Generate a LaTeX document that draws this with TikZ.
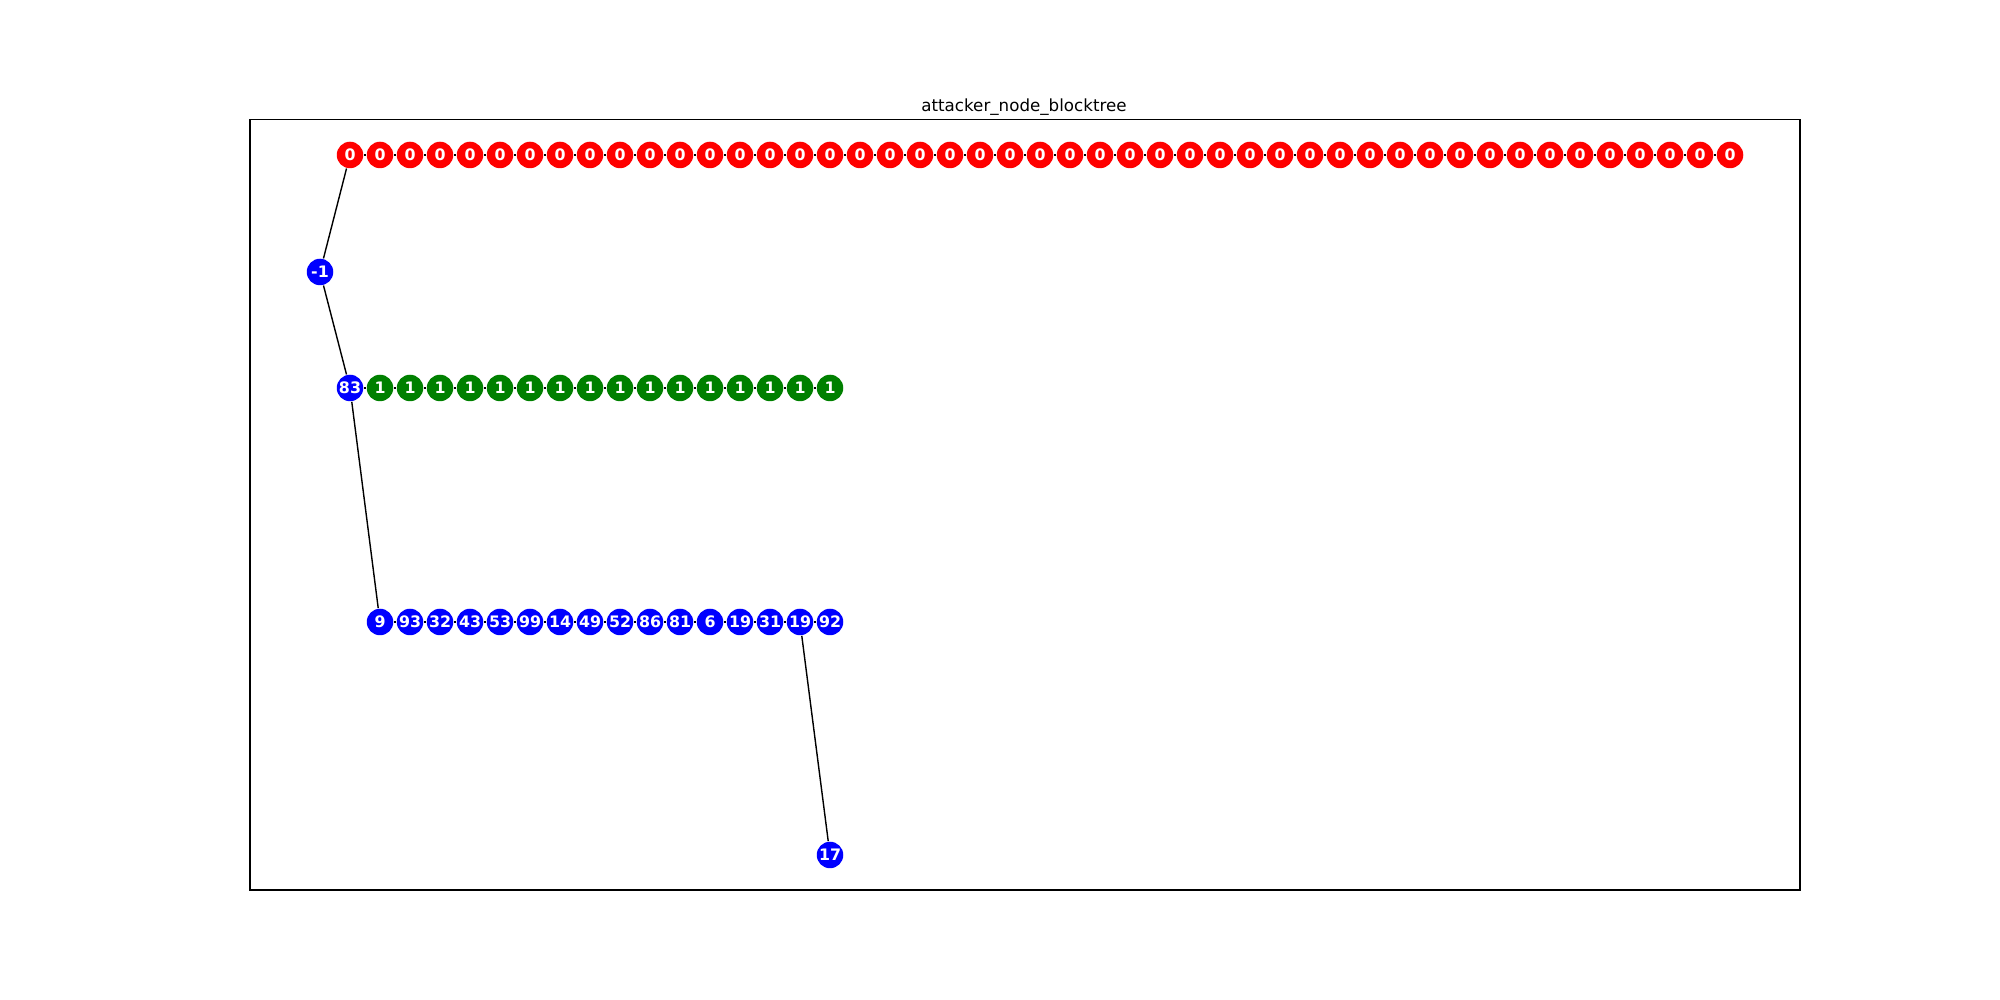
\documentclass[tikz,border=0pt]{standalone}
\usepackage{fontspec}
\setmainfont{DejaVu Sans}
\definecolor{mred}{RGB}{255,0,0}
\definecolor{mgreen}{RGB}{0,128,0}
\definecolor{mblue}{RGB}{0,0,255}
\tikzset{
  blk/.style={circle,inner sep=0pt,minimum size=0.265cm,text=white,
    font=\fontsize{4.5}{5}\selectfont\bfseries},
  rednode/.style={blk,fill=mred},
  greennode/.style={blk,fill=mgreen},
  bluenode/.style={blk,fill=mblue},
  edge/.style={draw=black,line width=0.4pt}
}
\begin{document}
\begin{tikzpicture}
\useasboundingbox (0,0) rectangle (20,10);
\draw[line width=0.3pt] (2.5,1.1) rectangle (18,8.8);
\node[font=\fontsize{4.75}{5.5}\selectfont] (title) at (10.24,8.93) {attacker\_node\_blocktree};
% root and fork node
\node[bluenode] (root) at (3.2,7.28) {-1};
\node[bluenode] (b83) at (3.5,6.12) {83};
% red chain
\foreach \i in {1,...,47} {
  \pgfmathsetmacro{\xx}{3.5+0.3*(\i-1)}
  \node[rednode] (r\i) at (\xx,8.45) {0};
}
% green chain
\foreach \i in {1,...,16} {
  \pgfmathsetmacro{\xx}{3.8+0.3*(\i-1)}
  \node[greennode] (g\i) at (\xx,6.12) {1};
}
% blue chain
\foreach \lab [count=\i] in {9,93,32,43,53,99,14,49,52,86,81,6,19,31,19,92} {
  \pgfmathsetmacro{\xx}{3.8+0.3*(\i-1)}
  \node[bluenode] (b\i) at (\xx,3.78) {\lab};
}
\node[bluenode] (b17) at (8.3,1.45) {17};
% edges
\draw[edge] (root) -- (r1);
\draw[edge] (root) -- (b83);
\draw[edge] (b83) -- (g1);
\draw[edge] (b83) -- (b1);
\foreach \i [evaluate=\i as \j using int(\i+1)] in {1,...,46} {
  \draw[edge] (r\i) -- (r\j);
}
\foreach \i [evaluate=\i as \j using int(\i+1)] in {1,...,15} {
  \draw[edge] (g\i) -- (g\j);
  \draw[edge] (b\i) -- (b\j);
}
\draw[edge] (b15) -- (b17);
\end{tikzpicture}
\end{document}
